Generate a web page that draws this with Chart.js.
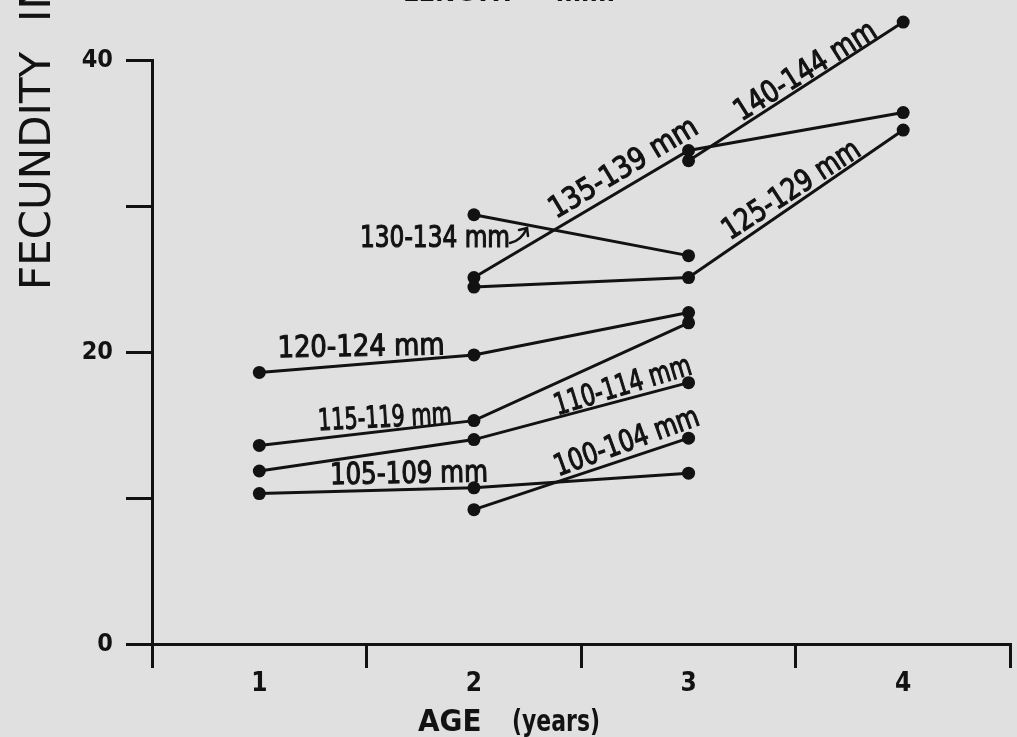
<!DOCTYPE html>
<html>
<head>
<meta charset="utf-8">
<script src="https://cdn.jsdelivr.net/npm/chart.js@4.4.1/dist/chart.umd.min.js"></script>
<style>
  html, body { margin: 0; padding: 0; background: #e0e0e0; }
  canvas { display: block; }
</style>
</head>
<body>
<canvas id="chart" width="1017" height="737"></canvas>
<script>
// Age classes (years) on the x axis
const ages = ['1', '2', '3', '4'];

// Fecundity by age for each length class (null = no fish of that age)
const len100_104 = [null, 9.2, 14.1, null];
const len105_109 = [10.3, 10.7, 11.7, null];
const len110_114 = [11.85, 14.0, 17.9, null];
const len115_119 = [13.6, 15.3, 22.0, null];
const len120_124 = [18.6, 19.8, 22.7, null];
const len125_129 = [null, 24.45, 25.1, 35.2];
const len130_134 = [null, 29.4, 26.6, null];
const len135_139 = [null, 25.1, 33.8, 36.4];
const len140_144 = [null, null, 33.1, 42.6];

const lengthClasses = ['100-104 mm', '105-109 mm', '110-114 mm', '115-119 mm', '120-124 mm',
                       '125-129 mm', '130-134 mm', '135-139 mm', '140-144 mm'];
const classValues = [len100_104, len105_109, len110_114, len115_119, len120_124,
                     len125_129, len130_134, len135_139, len140_144];

// Labelled values on the fecundity axis (10 and 30 get a bare tick)
const yTickLabels = { 0: '0', 20: '20', 40: '40' };

const ink = '#121212';
const paper = '#e0e0e0';
const letterFont = "'DejaVu Sans Condensed', 'DejaVu Sans', sans-serif";
const boldFont = "'DejaVu Sans Condensed', 'DejaVu Sans', sans-serif";

// Hand-lettered class names set along their lines (centre, angle, lettered width)
const lineNotes = [
  { text: '120-124 mm', x: 361, y: 348, angle: -1,  w: 167 },
  { text: '115-119 mm', x: 385, y: 419, angle: -3,  w: 134 },
  { text: '105-109 mm', x: 409, y: 475, angle: -1,  w: 158 },
  { text: '130-134 mm', x: 435, y: 239, angle: 0,   w: 150 },
  { text: '135-139 mm', x: 624, y: 169, angle: -31, w: 168 },
  { text: '140-144 mm', x: 806, y: 72,  angle: -32, w: 162 },
  { text: '125-129 mm', x: 792, y: 191, angle: -33, w: 158 },
  { text: '110-114 mm', x: 623, y: 387, angle: -17, w: 142 },
  { text: '100-104 mm', x: 627, y: 443, angle: -20, w: 152 }
];

const paperBackground = {
  id: 'paperBackground',
  beforeDraw(chart) {
    const c = chart.ctx;
    c.save();
    c.fillStyle = paper;
    c.fillRect(0, 0, chart.width, chart.height);
    c.restore();
  }
};

// Points above the top of the axis are still plotted (the axis stops at 40)
const overflowPoints = {
  id: 'overflowPoints',
  afterDatasetsDraw(chart) {
    const a = chart.chartArea;
    const whole = { left: 0, top: 0, right: chart.width, bottom: chart.height };
    for (const meta of chart.getSortedVisibleDatasetMetas()) {
      for (const pt of meta.data) {
        if (pt.skip) continue;
        if (pt.y < a.top - 1 || pt.y > a.bottom + 1 || pt.x < a.left - 1 || pt.x > a.right + 1) {
          pt.draw(chart.ctx, whole);
        }
      }
    }
  }
};

const lettering = {
  id: 'lettering',
  afterDraw(chart) {
    const c = chart.ctx;
    c.save();
    c.fillStyle = ink;
    c.strokeStyle = ink;

    // class names
    c.textAlign = 'center';
    c.textBaseline = 'middle';
    c.lineWidth = 1.1;
    c.font = `30px ${letterFont}`;
    for (const n of lineNotes) {
      c.save();
      c.translate(n.x, n.y);
      c.rotate(n.angle * Math.PI / 180);
      c.fillText(n.text, 0, 0, n.w);
      c.strokeText(n.text, 0, 0, n.w);
      c.restore();
    }

    // small pointer from the 130-134 mm name to its line
    c.lineWidth = 2.5;
    c.lineCap = 'round';
    c.beginPath();
    c.moveTo(510, 243);
    c.quadraticCurveTo(521, 241, 527, 228);
    c.stroke();
    c.beginPath();
    c.moveTo(519, 230);
    c.lineTo(527, 228);
    c.lineTo(528, 236);
    c.stroke();

    // y axis title
    c.save();
    c.translate(50, 290);
    c.rotate(-Math.PI / 2);
    c.textAlign = 'left';
    c.textBaseline = 'alphabetic';
    c.font = "42px 'DejaVu Sans', sans-serif";
    c.fillText('FECUNDITY', 0, 0);
    c.fillText('IN', 268, 0);
    c.restore();

    // x axis title
    c.textAlign = 'left';
    c.textBaseline = 'alphabetic';
    c.font = `bold 31px ${boldFont}`;
    c.fillText('AGE', 418, 731, 67);
    c.fillText('(years)', 512, 731, 88);

    // heading running off the top edge
    c.font = `bold 27px ${boldFont}`;
    c.fillText('LENGTH  -  mm.', 403, 1);

    c.restore();
  }
};

const datasets = lengthClasses.map((name, i) => ({
  label: name,
  data: classValues[i],
  borderColor: ink,
  backgroundColor: ink,
  borderWidth: 3,
  pointRadius: 6.5,
  pointBorderWidth: 0,
  pointBackgroundColor: ink,
  tension: 0,
  spanGaps: false,
  clip: false
}));

new Chart(document.getElementById('chart'), {
  type: 'line',
  data: { labels: ages, datasets },
  options: {
    responsive: false,
    animation: false,
    devicePixelRatio: 1,
    layout: { padding: { top: 60, right: 4, left: 0, bottom: 0 } },
    plugins: {
      legend: { display: false },
      tooltip: { enabled: false },
      title: { display: false }
    },
    scales: {
      x: {
        type: 'category',
        offset: true,
        grid: {
          offset: true,
          drawOnChartArea: false,
          drawTicks: true,
          tickLength: 24,
          color: ink,
          lineWidth: 3
        },
        border: { display: true, color: ink, width: 3 },
        ticks: {
          color: ink,
          padding: 1,
          maxRotation: 0,
          font: { family: boldFont, size: 26, weight: 'bold' }
        },
        afterFit(scale) { scale.height = 93; }
      },
      y: {
        min: 0,
        max: 40,
        grid: {
          drawOnChartArea: false,
          drawTicks: true,
          tickLength: 26,
          color: ink,
          lineWidth: 3
        },
        border: { display: true, color: ink, width: 3 },
        ticks: {
          stepSize: 10,
          color: ink,
          padding: 13,
          font: { family: boldFont, size: 25, weight: 'bold' },
          callback: (v) => (yTickLabels[v] !== undefined ? yTickLabels[v] : '')
        },
        afterFit(scale) { scale.width = 152; }
      }
    }
  },
  plugins: [paperBackground, overflowPoints, lettering]
});
</script>
</body>
</html>
